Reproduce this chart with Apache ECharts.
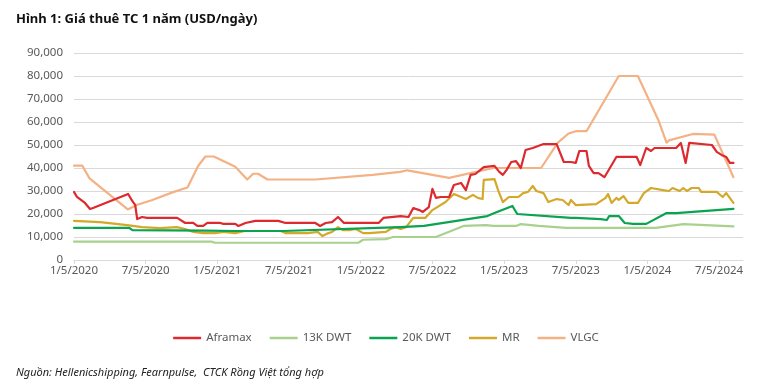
<!DOCTYPE html>
<html>
<head>
<meta charset="utf-8">
<script src="https://cdn.jsdelivr.net/npm/echarts@6/dist/echarts.min.js"></script>
<style>
html,body{margin:0;padding:0;background:#fff;}
#c{width:772px;height:384px;}
</style>
</head>
<body>
<div id="c"></div>
<script>
// x = months since 1/5/2020 (m/d/yyyy), y = USD/day
var tickLabels = ['1/5/2020','7/5/2020','1/5/2021','7/5/2021','1/5/2022','7/5/2022','1/5/2023','7/5/2023','1/5/2024','7/5/2024'];
var seriesNames = ['Aframax','13K DWT','20K DWT','MR','VLGC'];

var aframax = [[0,29600],[0.25,27400],[0.92,24800],[1.34,22200],[1.59,22600],[4.53,28700],[4.78,26500],[4.95,25200],[5.12,24000],[5.29,17800],[5.7,18700],[6.12,18300],[8.64,18300],[9.31,16100],[9.98,16100],[10.32,14800],[10.82,14800],[11.16,16100],[12.25,16100],[12.5,15700],[13.5,15700],[13.76,14800],[14.35,16100],[15.18,17000],[17.1,17000],[17.7,16100],[20.2,16100],[20.6,14800],[21.06,16100],[21.6,16500],[22.1,18700],[22.6,16100],[23.8,16100],[25.5,16100],[25.9,18300],[27.35,19100],[28.0,18700],[28.4,22600],[28.9,21700],[29.2,20900],[29.7,23000],[30.0,30900],[30.3,27000],[30.7,27400],[31.4,27400],[31.8,32600],[32.4,33500],[32.8,30400],[33.2,37000],[33.6,37400],[34.3,40400],[35.2,40900],[35.6,38300],[35.9,37000],[36.2,39100],[36.6,42600],[37.0,43000],[37.4,40000],[37.8,47800],[38.4,48700],[39.3,50400],[40.4,50400],[41.0,42600],[41.6,42600],[42.0,42200],[42.3,47400],[42.9,47400],[43.1,40900],[43.5,37800],[43.9,37800],[44.4,36000],[45.4,44800],[47.1,44800],[47.4,41300],[47.9,48700],[48.3,47400],[48.6,48700],[50.4,48700],[50.8,50900],[51.2,42200],[51.5,50900],[53.4,50000],[53.8,47000],[54.2,45700],[54.6,44800],[54.9,42200],[55.2,42200]];

var dwt13k = [[0,8000],[11.5,8000],[11.8,7500],[23.8,7500],[24.2,8800],[26.1,9100],[26.7,10000],[30.3,10000],[32.6,14800],[34.5,15200],[35.1,14800],[37.0,14800],[37.4,15600],[38.9,14800],[41.2,14000],[48.7,14000],[50.4,15200],[51.0,15600],[55.2,14600]];

var dwt20k = [[0,14000],[4.6,14000],[4.9,13000],[11.0,12800],[13.5,12600],[17.5,12600],[27.3,14300],[29.3,14800],[34.6,19100],[35.2,20400],[36.7,23500],[37.1,20000],[41.6,18300],[42.0,18300],[44.1,17800],[44.6,17400],[44.8,19100],[45.6,19100],[46.1,16100],[46.8,15700],[47.9,15700],[49.6,20400],[50.4,20400],[55.2,22200]];

var mr = [[0,17000],[2.18,16500],[4.45,15200],[5.7,14300],[7.2,13900],[8.6,14300],[9.3,13500],[10.0,12200],[10.8,11700],[11.8,11700],[12.5,12200],[13.5,11700],[14.3,12600],[17.3,12600],[17.7,11700],[19.6,11700],[20.4,12200],[20.8,10400],[21.3,11700],[21.6,12200],[22.1,14300],[22.5,13000],[23.0,13000],[23.6,13500],[24.2,11700],[24.7,11700],[26.1,12200],[26.5,13500],[26.9,14300],[27.35,13500],[27.8,14300],[28.4,18300],[29.4,18300],[30.0,21700],[31.1,25200],[31.8,28700],[32.4,27400],[32.8,26500],[33.4,28300],[33.8,27000],[34.2,26500],[34.3,34800],[35.2,35200],[35.5,30400],[35.9,25200],[36.4,27400],[37.2,27400],[37.6,29100],[38.0,29600],[38.4,32200],[38.7,30000],[39.3,29100],[39.7,25200],[40.4,26500],[40.9,26100],[41.4,23900],[41.6,26100],[42.0,23900],[43.7,24300],[44.5,27000],[44.7,28700],[45.0,24800],[45.4,27000],[45.6,26100],[46.0,27800],[46.4,24800],[47.2,24800],[47.7,29100],[48.3,31300],[49.3,30400],[49.8,30000],[50.1,31300],[50.7,30000],[51.0,31300],[51.3,30000],[51.7,31300],[52.3,31300],[52.5,29600],[53.8,29600],[54.3,27400],[54.6,29100],[55.2,24800]];

var vlgc = [[0,41000],[0.7,41000],[1.3,35500],[4.5,22000],[5.3,24000],[6.5,26000],[8.3,29500],[9.5,31500],[10.4,41000],[11.0,45000],[11.7,45000],[13.5,40500],[14.5,35000],[15.0,37500],[15.4,37500],[16.2,35000],[20.2,35000],[25.0,37000],[27.3,38300],[27.9,39000],[31.4,35700],[35.1,40000],[39.1,40000],[40.5,51000],[41.4,55000],[42.0,56000],[42.9,56000],[45.6,80000],[47.2,80000],[48.9,61000],[49.6,51000],[49.8,52000],[51.8,54800],[53.6,54500],[55.2,36000]];

var colors = ['#dc2a2f','#a9d18e','#0aa34f','#d4a82a','#f4b183'];
var datasets = [aframax, dwt13k, dwt20k, mr, vlgc];

var chart = echarts.init(document.getElementById('c'), null, {renderer:'canvas'});
var font = '"Noto Sans", "Open Sans", sans-serif';
chart.setOption({
  animation:false,
  color: colors,
  textStyle:{fontFamily:font},
  title:[
    {text:'Hình 1: Giá thuê TC 1 năm (USD/ngày)', left:11, top:8,
     textStyle:{fontFamily:font, fontSize:13, fontWeight:'bold', color:'#111'}},
    {text:'Nguồn: Hellenicshipping, Fearnpulse,  CTCK Rồng Việt tổng hợp', left:11, top:362,
     textStyle:{fontFamily:font, fontSize:11, fontStyle:'italic', fontWeight:'normal', color:'#222'}}
  ],
  grid:{left:74, right:29, top:53, bottom:124},
  legend:{
    data: seriesNames, bottom:35, left:'center', icon:'rect', itemWidth:28, itemHeight:2.5, itemGap:18,
    textStyle:{fontFamily:font, fontSize:11.5, color:'#595959'}
  },
  xAxis:{
    type:'value', min:0, max:56, interval:6,
    axisLine:{lineStyle:{color:'#d9d9d9'}},
    axisTick:{show:true, length:4, lineStyle:{color:'#d9d9d9'}},
    splitLine:{show:false},
    axisLabel:{showMaxLabel:false, margin:5, fontFamily:font, fontSize:11.5, color:'#595959',
      formatter:function(v){ var i = Math.round(v/6); return (Math.abs(v - i*6) < 1e-6 && tickLabels[i]) ? tickLabels[i] : ''; }}
  },
  yAxis:{
    type:'value', min:0, max:90000, interval:10000,
    axisLine:{show:false}, axisTick:{show:false},
    splitLine:{lineStyle:{color:'#d9d9d9'}},
    axisLabel:{margin:11, fontFamily:font, fontSize:11.5, color:'#595959',
      formatter:function(v){ return v.toLocaleString('en-US'); }}
  },
  series: seriesNames.map(function(n,i){
    return {name:n, type:'line', data:datasets[i], symbol:'none', showSymbol:false,
      lineStyle:{width:2.2, color:colors[i], join:'round', cap:'round'}, itemStyle:{color:colors[i]}, z: 10-i};
  })
});
</script>
</body>
</html>
